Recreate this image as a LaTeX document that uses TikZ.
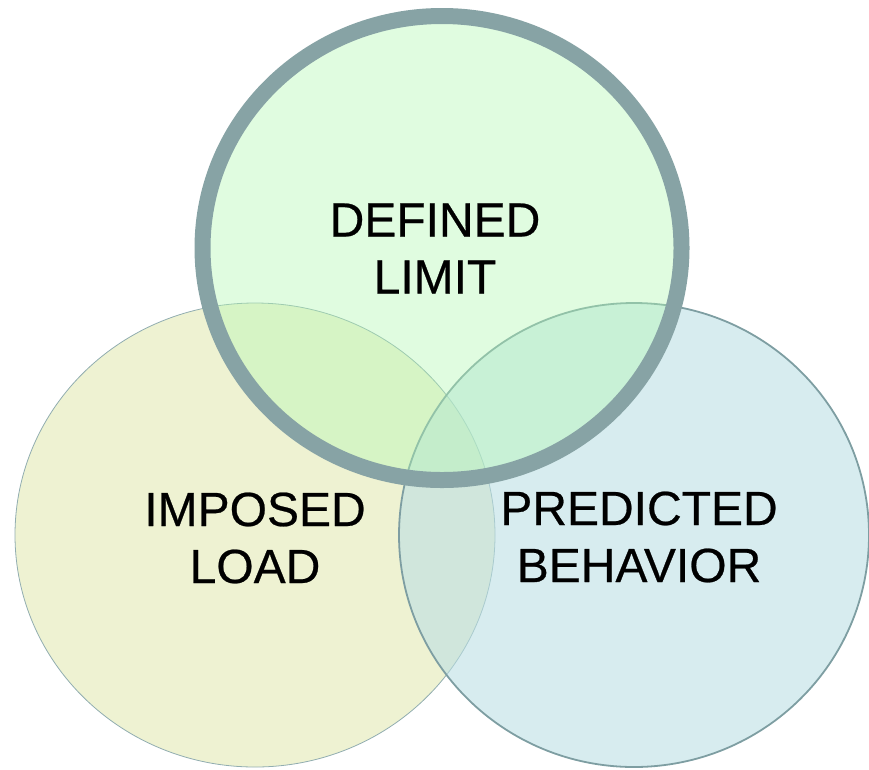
\documentclass[tikz,border=0pt]{standalone}
\usepackage{fontspec}
\setmainfont{Liberation Sans}
\usetikzlibrary{shapes.geometric}

\definecolor{loadfill}{RGB}{238,242,210}
\definecolor{limitfill}{RGB}{178,248,178}
\definecolor{behavfill}{RGB}{187,223,228}
\definecolor{rimgray}{RGB}{135,163,165}
\definecolor{edgeblue}{RGB}{126,158,162}

\begin{document}
\begin{tikzpicture}[x=1pt,y=-1pt,
    venn/.style={ellipse, inner sep=0pt, minimum height=464pt},
    vtext/.style={inner sep=0pt, align=center,
      font=\fontsize{48}{57}\selectfont\addfontfeature{FakeBold=0.5}}]
  \useasboundingbox (0,0) rectangle (869,769);

  \node[venn, minimum width=480pt, fill=loadfill,
    draw=edgeblue!85, line width=0.8pt] (IL) at (255,535) {};
  \node[venn, minimum width=470pt, fill=behavfill, fill opacity=0.59,
    draw=edgeblue, line width=1.8pt] (PB) at (634,535) {};
  \node[venn, minimum width=479pt, fill=limitfill, fill opacity=0.4,
    draw=rimgray, line width=16pt] (DL) at (442,248) {};

  \node[vtext] (DLtext) at (435,248.5) {DEFINED\\LIMIT};
  \node[vtext] (ILtext) at (255,538) {IMPOSED\\LOAD};
  \node[vtext] (PBtext) at (639,537) {PREDICTED\\BEHAVIOR};

\end{tikzpicture}
\end{document}
